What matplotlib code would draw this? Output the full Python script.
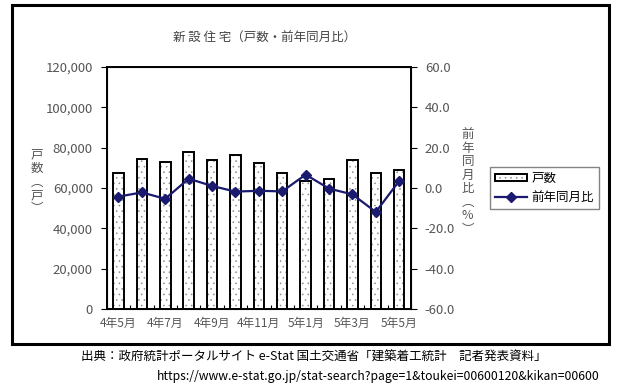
import numpy as np
import matplotlib
matplotlib.use("Agg")
import matplotlib.pyplot as plt
from matplotlib.patches import Rectangle

plt.rcParams['font.family'] = ['Noto Sans CJK JP', 'DejaVu Sans']
plt.rcParams['hatch.linewidth'] = 0.4

months = ['4年5月', '4年6月', '4年7月', '4年8月', '4年9月', '4年10月', '4年11月',
          '4年12月', '5年1月', '5年2月', '5年3月', '5年4月', '5年5月']
units = [67193, 74596, 72981, 77731, 74004, 76437, 72372,
         67249, 63604, 64426, 73693, 67250, 68940]
yoy = [-4.3, -2.2, -5.4, 4.6, 1.0, -1.8, -1.4, -1.7, 6.6, -0.3, -3.2, -11.9, 3.5]
left_ticks = [0, 20000, 40000, 60000, 80000, 100000, 120000]
right_ticks = [-60, -40, -20, 0, 20, 40, 60]

grey = '#555555'
fig = plt.figure(figsize=(6.17, 3.87), dpi=100)
ax = fig.add_axes([0.173, 0.2016, 0.493, 0.6254])
x = np.arange(len(months))

# dotted fill in grey, then black outline on top
dots = ax.bar(x, units, width=0.45, color='white', edgecolor='#8a8a8a',
              linewidth=0, hatch='...')
bars = ax.bar(x, units, width=0.45, fill=False, edgecolor='black', linewidth=1.4)
ax.set_xlim(-0.5, len(months) - 0.5)
ax.set_ylim(0, 120000)
ax.set_yticks(left_ticks)
ax.set_yticklabels([f"{v:,}" for v in left_ticks], fontsize=9.5, color=grey)
ax.set_xticks(x[::2])
ax.set_xticklabels(months[::2], fontsize=8.5, color=grey)
ax.set_xticks(np.arange(-0.5, len(months), 1), minor=True)
ax.tick_params(axis='x', which='major', length=0, pad=6)
ax.tick_params(axis='x', which='minor', length=3, direction='in', width=0.8)
ax.tick_params(axis='y', length=4, width=0.8, pad=6)
for s in ax.spines.values():
    s.set_linewidth(1.4)

ax2 = ax.twinx()
line, = ax2.plot(x, yoy, color='#1a1a6e', marker='D', markersize=5,
                 linewidth=1.6)
ax2.set_ylim(-60, 60)
ax2.set_yticks(right_ticks)
ax2.set_yticklabels([f"{v:.1f}" for v in right_ticks], fontsize=9.5, color=grey)
ax2.tick_params(axis='y', length=4, width=0.8, pad=6)

fig.text(0.428, 0.902, '新 設 住 宅（戸数・前年同月比）', ha='center', va='center',
         fontsize=9, color='#444444')
fig.text(0.060, 0.53, '戸\n数\n︵\n戸\n︶', ha='center', va='center',
         fontsize=9, color=grey, linespacing=1.05)
fig.text(0.758, 0.53, '前\n年\n同\n月\n比\n︵\n%\n︶', ha='center', va='center',
         fontsize=9, color=grey, linespacing=1.05)

fig.legend(handles=[(dots[0], bars[0]), line], labels=['戸数', '前年同月比'],
           loc='center', bbox_to_anchor=(0.882, 0.515), fontsize=9,
           frameon=True, fancybox=False, edgecolor='#666666',
           handlelength=2.6, handleheight=0.5, borderpad=0.4, labelspacing=0.5,
           handletextpad=0.3)

fig.patches.append(Rectangle((0.019, 0.112), 0.968, 0.876, transform=fig.transFigure,
                             fill=False, edgecolor='black', linewidth=2.2))

fig.text(0.508, 0.077, '出典：政府統計ポータルサイト e-Stat 国土交通省「建築着工統計　記者発表資料」',
         ha='center', va='center', fontsize=9, color='black')
fig.text(0.972, 0.028, 'https://www.e-stat.go.jp/stat-search?page=1&toukei=00600120&kikan=00600',
         ha='right', va='center', fontsize=8.8, color='black')

fig.savefig('out.png', dpi=100)
